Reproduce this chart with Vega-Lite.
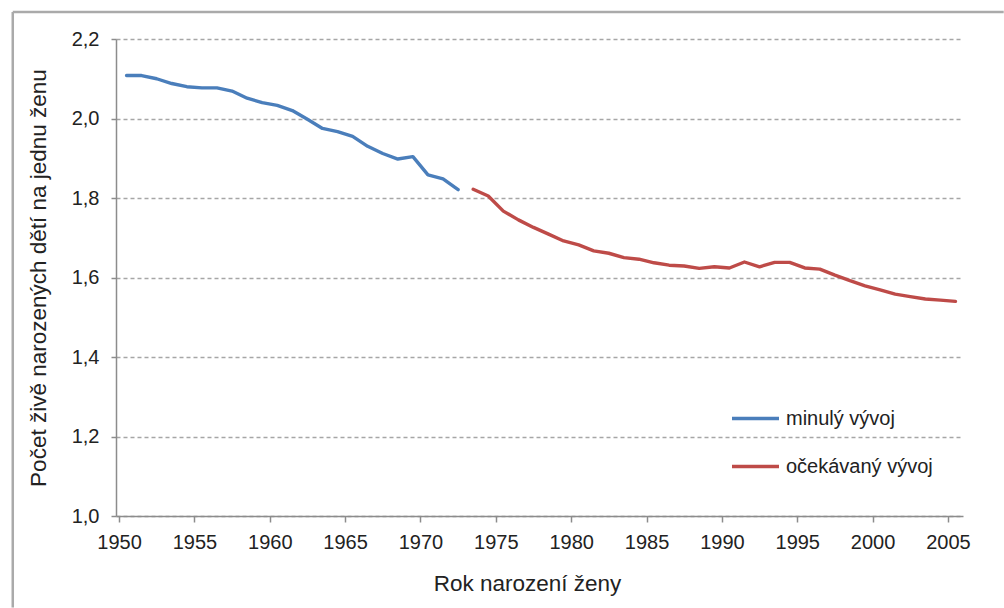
{
  "$schema": "https://vega.github.io/schema/vega-lite/v6.json",
  "autosize": {"type": "none"},
  "width": 847,
  "height": 477,
  "padding": {"left": 116, "top": 39, "right": 41, "bottom": 92},
  "background": "white",
  "config": {
    "view": {"stroke": null},
    "font": "Liberation Sans",
    "axis": {
      "labelFont": "Liberation Sans",
      "titleFont": "Liberation Sans",
      "labelColor": "#222222",
      "titleColor": "#222222",
      "labelFontSize": 20,
      "titleFontSize": 22.5,
      "titleFontWeight": "normal",
      "domainColor": "#8c8c8c",
      "tickColor": "#8c8c8c",
      "domainWidth": 1.5,
      "tickWidth": 1.5
    },
    "legend": {
      "labelFont": "Liberation Sans",
      "labelFontSize": 20,
      "labelColor": "#222222"
    }
  },
  "layer": [
    {
      "data": {"values": [{"a": 1}]},
      "mark": {"type": "rule", "stroke": "#aaaaaa", "strokeWidth": 2.5, "clip": false},
      "encoding": {
        "x": {"datum": 1942.45, "type": "quantitative", "scale": {"domain": [1949.3, 2005.5], "nice": false, "zero": false}},
        "x2": {"datum": 2008.2},
        "y": {"datum": 2.268, "type": "quantitative", "scale": {"domain": [1.0, 2.2], "nice": false, "zero": false}}
      }
    },
    {
      "data": {"values": [{"a": 1}]},
      "mark": {"type": "rule", "stroke": "#aaaaaa", "strokeWidth": 2.5, "clip": false},
      "encoding": {
        "x": {"datum": 1942.45, "type": "quantitative"},
        "y": {"datum": 2.268, "type": "quantitative"},
        "y2": {"datum": 0.77}
      }
    },
    {
      "data": {
        "values": [
          {"rok": 1950, "hodnota": 2.108, "serie": "minulý vývoj"},
          {"rok": 1951, "hodnota": 2.108, "serie": "minulý vývoj"},
          {"rok": 1952, "hodnota": 2.100, "serie": "minulý vývoj"},
          {"rok": 1953, "hodnota": 2.088, "serie": "minulý vývoj"},
          {"rok": 1954, "hodnota": 2.080, "serie": "minulý vývoj"},
          {"rok": 1955, "hodnota": 2.077, "serie": "minulý vývoj"},
          {"rok": 1956, "hodnota": 2.077, "serie": "minulý vývoj"},
          {"rok": 1957, "hodnota": 2.069, "serie": "minulý vývoj"},
          {"rok": 1958, "hodnota": 2.051, "serie": "minulý vývoj"},
          {"rok": 1959, "hodnota": 2.040, "serie": "minulý vývoj"},
          {"rok": 1960, "hodnota": 2.033, "serie": "minulý vývoj"},
          {"rok": 1961, "hodnota": 2.020, "serie": "minulý vývoj"},
          {"rok": 1962, "hodnota": 1.998, "serie": "minulý vývoj"},
          {"rok": 1963, "hodnota": 1.975, "serie": "minulý vývoj"},
          {"rok": 1964, "hodnota": 1.967, "serie": "minulý vývoj"},
          {"rok": 1965, "hodnota": 1.955, "serie": "minulý vývoj"},
          {"rok": 1966, "hodnota": 1.930, "serie": "minulý vývoj"},
          {"rok": 1967, "hodnota": 1.912, "serie": "minulý vývoj"},
          {"rok": 1968, "hodnota": 1.898, "serie": "minulý vývoj"},
          {"rok": 1969, "hodnota": 1.904, "serie": "minulý vývoj"},
          {"rok": 1970, "hodnota": 1.858, "serie": "minulý vývoj"},
          {"rok": 1971, "hodnota": 1.848, "serie": "minulý vývoj"},
          {"rok": 1972, "hodnota": 1.821, "serie": "minulý vývoj"},
          {"rok": 1973, "hodnota": 1.822, "serie": "očekávaný vývoj"},
          {"rok": 1974, "hodnota": 1.805, "serie": "očekávaný vývoj"},
          {"rok": 1975, "hodnota": 1.767, "serie": "očekávaný vývoj"},
          {"rok": 1976, "hodnota": 1.745, "serie": "očekávaný vývoj"},
          {"rok": 1977, "hodnota": 1.726, "serie": "očekávaný vývoj"},
          {"rok": 1978, "hodnota": 1.709, "serie": "očekávaný vývoj"},
          {"rok": 1979, "hodnota": 1.692, "serie": "očekávaný vývoj"},
          {"rok": 1980, "hodnota": 1.682, "serie": "očekávaný vývoj"},
          {"rok": 1981, "hodnota": 1.667, "serie": "očekávaný vývoj"},
          {"rok": 1982, "hodnota": 1.661, "serie": "očekávaný vývoj"},
          {"rok": 1983, "hodnota": 1.650, "serie": "očekávaný vývoj"},
          {"rok": 1984, "hodnota": 1.646, "serie": "očekávaný vývoj"},
          {"rok": 1985, "hodnota": 1.637, "serie": "očekávaný vývoj"},
          {"rok": 1986, "hodnota": 1.631, "serie": "očekávaný vývoj"},
          {"rok": 1987, "hodnota": 1.629, "serie": "očekávaný vývoj"},
          {"rok": 1988, "hodnota": 1.623, "serie": "očekávaný vývoj"},
          {"rok": 1989, "hodnota": 1.627, "serie": "očekávaný vývoj"},
          {"rok": 1990, "hodnota": 1.624, "serie": "očekávaný vývoj"},
          {"rok": 1991, "hodnota": 1.639, "serie": "očekávaný vývoj"},
          {"rok": 1992, "hodnota": 1.627, "serie": "očekávaný vývoj"},
          {"rok": 1993, "hodnota": 1.638, "serie": "očekávaný vývoj"},
          {"rok": 1994, "hodnota": 1.638, "serie": "očekávaný vývoj"},
          {"rok": 1995, "hodnota": 1.624, "serie": "očekávaný vývoj"},
          {"rok": 1996, "hodnota": 1.621, "serie": "očekávaný vývoj"},
          {"rok": 1997, "hodnota": 1.606, "serie": "očekávaný vývoj"},
          {"rok": 1998, "hodnota": 1.592, "serie": "očekávaný vývoj"},
          {"rok": 1999, "hodnota": 1.579, "serie": "očekávaný vývoj"},
          {"rok": 2000, "hodnota": 1.569, "serie": "očekávaný vývoj"},
          {"rok": 2001, "hodnota": 1.558, "serie": "očekávaný vývoj"},
          {"rok": 2002, "hodnota": 1.552, "serie": "očekávaný vývoj"},
          {"rok": 2003, "hodnota": 1.546, "serie": "očekávaný vývoj"},
          {"rok": 2004, "hodnota": 1.543, "serie": "očekávaný vývoj"},
          {"rok": 2005, "hodnota": 1.540, "serie": "očekávaný vývoj"}
        ]
      },
      "mark": {"type": "line", "strokeWidth": 3.4, "strokeJoin": "round", "strokeCap": "round"},
      "encoding": {
        "x": {
          "field": "rok",
          "type": "quantitative",
          "scale": {"domain": [1949.3, 2005.5], "nice": false, "zero": false},
          "axis": {
            "title": "Rok narození ženy",
            "titleX": 411,
            "values": [1950, 1955, 1960, 1965, 1970, 1975, 1980, 1985, 1990, 1995, 2000, 2005],
            "format": "d",
            "grid": false,
            "tickSize": 6,
            "tickOffset": -7.5,
            "labelPadding": 10,
            "titlePadding": 20
          }
        },
        "y": {
          "field": "hodnota",
          "type": "quantitative",
          "scale": {"domain": [1.0, 2.2], "nice": false, "zero": false},
          "axis": {
            "title": "Počet živě narozených dětí na jednu ženu",
            "values": [1.0, 1.2, 1.4, 1.6, 1.8, 2.0, 2.2],
            "labelExpr": "replace(format(datum.value, '.1f'), '.', ',')",
            "grid": true,
            "gridColor": "#a6a6a6",
            "gridDash": [4, 3],
            "gridWidth": 1.3,
            "tickSize": 5,
            "labelPadding": 12,
            "titlePadding": 21
          }
        },
        "color": {
          "field": "serie",
          "type": "nominal",
          "scale": {"domain": ["minulý vývoj", "očekávaný vývoj"], "range": ["#4a7ebb", "#be4b48"]},
          "legend": {
            "title": null,
            "orient": "none",
            "legendX": 614,
            "legendY": 354,
            "symbolType": "stroke",
            "symbolSize": 2209,
            "symbolStrokeWidth": 3.4,
            "labelOffset": 5,
            "rowPadding": 12
          }
        }
      }
    }
  ]
}
